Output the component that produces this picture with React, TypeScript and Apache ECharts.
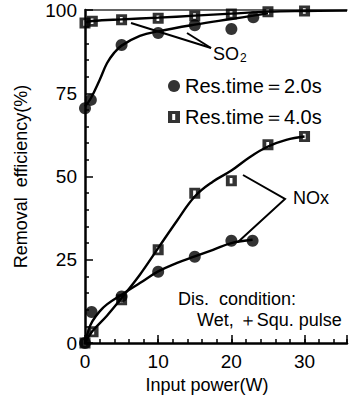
import React, { useEffect, useRef } from "react";
import * as echarts from "echarts";

const FONT = "'Liberation Sans Narrow', 'Liberation Sans', Arial, sans-serif";

// Measured points
const so2Res2Points: [number, number][] = [
  [0, 70.5], [0.8, 73], [5, 89.5], [10, 93.1], [15, 95.4], [20, 94.3], [23, 97.8],
];
const so2Res4Points: [number, number][] = [
  [0, 96.1], [1, 96.6], [5, 97.1], [10, 97.5], [15, 98.2], [20, 98.8], [25, 99.5], [30, 99.7],
];
const noxRes2Points: [number, number][] = [
  [0, 0], [0.9, 9.3], [5, 14], [10, 21.4], [15, 25.9], [20, 30.7], [22.9, 30.7],
];
const noxRes4Points: [number, number][] = [
  [0, 0], [1.1, 3.4], [5, 13], [10, 28], [15, 45], [20, 48.7], [25, 59.5], [30, 62],
];

// Hand-drawn fitted curves
const so2Res2Curve: [number, number][] = [
  [0, 71], [0.8, 73.5], [2, 79], [3, 84], [4, 87.2], [5, 89.3], [7.5, 92.2], [10, 93.6],
  [15, 95.6], [20, 97.3], [23, 98.3], [25, 99],
];
const so2Res4Curve: [number, number][] = [
  [0, 96.3], [1, 96.7], [5, 97.2], [10, 97.7], [15, 98.3], [20, 98.9], [25, 99.5], [30, 99.7], [35.8, 99.8],
];
const noxRes2Curve: [number, number][] = [
  [0, 0], [0.5, 4], [1, 6.5], [2, 9.5], [3, 11.6], [5, 14.5], [7.5, 18], [10, 21.5],
  [12.5, 24], [15, 26], [17.5, 28], [20, 30], [22.9, 31],
];
const noxRes4Curve: [number, number][] = [
  [0, 0], [1, 3.5], [3, 8.2], [5, 13.5], [7.5, 20.5], [10, 28.5], [12.5, 36.5], [15, 44],
  [17.5, 48.5], [20, 51.8], [22.5, 55.8], [25, 59], [27.5, 61], [30, 62],
];

const legendNames = ["Res.time＝2.0s", "Res.time＝4.0s"];
const xTickStep = 2;
const xLabelStep = 10;
const yTickStep = 25;

const SQUARE = "path://M0,0H10V10H0Z M3.5,2.5V7.5H6V2.5Z";

export default function App() {
  const ref = useRef<HTMLDivElement>(null);
  useEffect(() => {
    if (!ref.current) return;
    const chart = echarts.init(ref.current, null, { renderer: "svg" });
    const black = "#000";
    const curveStyle = { color: black, width: 2.4 };
    const lineSeries = (data: [number, number][], name: string) => ({
      type: "line",
      name,
      data,
      smooth: 0.4,
      showSymbol: false,
      symbol: "none",
      lineStyle: curveStyle,
      z: 2,
      silent: true,
    });
    const circleSeries = (data: [number, number][]) => ({
      type: "scatter",
      name: legendNames[0],
      data,
      symbol: "circle",
      symbolSize: 12,
      itemStyle: { color: black },
      z: 5,
    });
    const squareSeries = (data: [number, number][]) => ({
      type: "scatter",
      name: legendNames[1],
      data,
      symbol: SQUARE,
      symbolSize: 11,
      itemStyle: { color: black },
      z: 5,
    });
    chart.setOption({
      animation: false,
      backgroundColor: "#fff",
      textStyle: { fontFamily: FONT, color: black },
      grid: { left: 85, right: 0, top: 10, bottom: 49 },
      legend: {
        orient: "vertical",
        left: 168,
        top: 76,
        padding: 0,
        itemGap: 11,
        itemWidth: 12,
        itemHeight: 12,
        textStyle: { fontFamily: FONT, fontSize: 20, color: black },
        data: [
          { name: legendNames[0], icon: "circle", itemStyle: { color: black } },
          { name: legendNames[1], icon: SQUARE, itemStyle: { color: black } },
        ],
      },
      xAxis: [
        {
          type: "value",
          min: 0,
          max: 35.8,
          interval: xTickStep,
          name: "Input power(W)",
          nameLocation: "middle",
          nameGap: 33,
          nameTextStyle: { fontFamily: FONT, fontSize: 18, color: black, padding: [0, 18, 0, 0] },
          axisLine: { lineStyle: { color: black, width: 2.5 } },
          axisTick: { inside: true, length: 4, lineStyle: { color: black, width: 1.5 } },
          axisLabel: {
            fontFamily: FONT,
            fontSize: 19,
            color: black,
            margin: 9,
            formatter: (v: number) => (v % xLabelStep === 0 ? String(v) : ""),
          },
          splitLine: { show: false },
        },
        {
          type: "value",
          min: 0,
          max: 35.8,
          interval: xLabelStep,
          position: "bottom",
          axisLine: { show: false },
          axisTick: { inside: true, length: 8, lineStyle: { color: black, width: 1.5 } },
          axisLabel: { show: false },
          splitLine: { show: false },
        },
        {
          type: "value",
          min: 0,
          max: 35.8,
          position: "top",
          axisLine: { show: true, lineStyle: { color: "#333", width: 1.5 } },
          axisTick: { show: false },
          axisLabel: { show: false },
          splitLine: { show: false },
        },
      ],
      yAxis: {
        type: "value",
        min: 0,
        max: 100,
        interval: yTickStep,
        name: "Removal  efficiency(%)",
        nameLocation: "middle",
        nameGap: 55,
        nameTextStyle: { fontFamily: FONT, fontSize: 18, color: black },
        axisLine: { show: true, lineStyle: { color: black, width: 2.5 } },
        axisTick: { inside: true, length: 8, lineStyle: { color: black, width: 1.5 } },
        minorTick: { show: true, splitNumber: 5, length: 4, lineStyle: { color: black, width: 1.5 } },
        axisLabel: { fontFamily: FONT, fontSize: 19, color: black, margin: 8 },
        splitLine: { show: false },
      },
      series: [
        lineSeries(so2Res2Curve, "so2-2-curve"),
        lineSeries(so2Res4Curve, "so2-4-curve"),
        lineSeries(noxRes2Curve, "nox-2-curve"),
        lineSeries(noxRes4Curve, "nox-4-curve"),
        circleSeries(so2Res2Points),
        circleSeries(noxRes2Points),
        squareSeries(so2Res4Points),
        squareSeries(noxRes4Points),
      ],
      graphic: [
        { type: "polyline", shape: { points: [[131, 23], [211, 48]] }, style: { stroke: black, lineWidth: 2, fill: null }, z: 10 },
        { type: "polyline", shape: { points: [[187, 33], [211, 48]] }, style: { stroke: black, lineWidth: 2, fill: null }, z: 10 },
        { type: "polyline", shape: { points: [[243, 175], [285, 199], [238, 242]] }, style: { stroke: black, lineWidth: 2, fill: null }, z: 10 },
        {
          type: "text",
          left: 213,
          top: 45,
          z: 10,
          style: {
            text: "SO{sub|2}",
            fontFamily: FONT,
            fontSize: 18,
            fill: black,
            rich: { sub: { fontFamily: FONT, fontSize: 12, verticalAlign: "bottom", padding: [8, 0, 0, 1] } },
          },
        },
        { type: "text", left: 293, top: 189, z: 10, style: { text: "NOx", fontFamily: FONT, fontSize: 18, fill: black } },
        { type: "text", left: 178, top: 290, z: 10, style: { text: "Dis.  condition:", fontFamily: FONT, fontSize: 18, fill: black } },
        { type: "text", left: 197, top: 311, z: 10, style: { text: "Wet, ＋Squ. pulse", fontFamily: FONT, fontSize: 18, fill: black } },
      ],
    });
    return () => chart.dispose();
  }, []);
  return (
    <div
      ref={ref}
      style={{ position: "fixed", left: 0, top: 0, width: 350, height: 399, background: "#fff" }}
    />
  );
}
